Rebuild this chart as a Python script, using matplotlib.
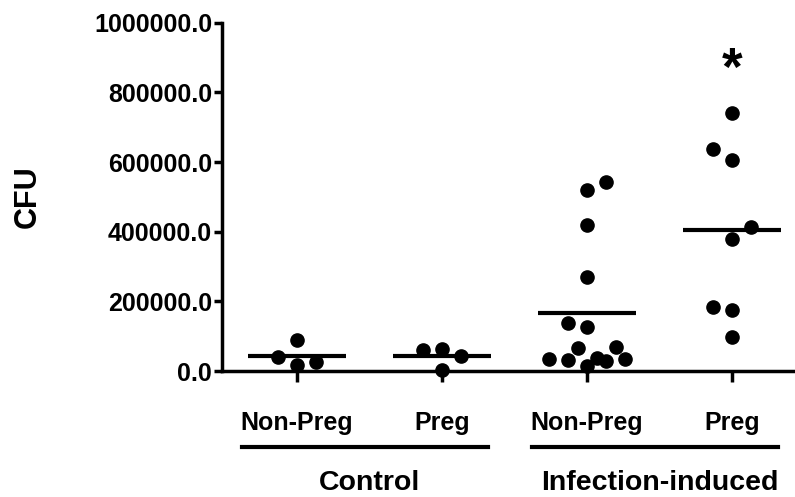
import matplotlib.pyplot as plt

plt.rcParams['font.family'] = ['Liberation Sans', 'DejaVu Sans']
plt.rcParams['font.weight'] = 'bold'

# data (CFU per animal)
ctrl_nonpreg = [88800, 41000, 17000, 26600]
ctrl_preg = [60000, 62000, 43000, 3000]
inf_nonpreg = [518600, 542400, 418300, 270300, 136600, 125200, 65000,
               69700, 34400, 31500, 36300, 28600, 34400, 14300]
inf_preg = [638100, 606600, 740100, 413500, 380200, 182500, 174800, 98300]

# horizontal scatter of the dots, in dot-widths (layout only)
ctrl_nonpreg_dx = [0, -1, 0, 1]
ctrl_preg_dx = [-1, 0, 1, 0]
inf_nonpreg_dx = [0, 1, 0, 0, -1, 0, -0.5, 1.5, -2, -1, 0.5, 1, 2, 0]
inf_preg_dx = [-1, 0, 0, 1, 0, -1, 0, 0]

cat_labels = ['Non-Preg', 'Preg', 'Non-Preg', 'Preg']
groups = ['Control', 'Infection-induced']
yticks = [0, 200000, 400000, 600000, 800000, 1000000]

series = [ctrl_nonpreg, ctrl_preg, inf_nonpreg, inf_preg]
offsets = [ctrl_nonpreg_dx, ctrl_preg_dx, inf_nonpreg_dx, inf_preg_dx]

fig = plt.figure(figsize=(7.95, 4.97), dpi=100)
ax = fig.add_axes([0.2792, 0.2535, 0.7208, 0.7008])

step = 0.131
for i, (vals, dx) in enumerate(zip(series, offsets)):
    xs = [i + d * step for d in dx]
    ax.plot(xs, vals, 'o', color='black', markersize=9.5, clip_on=False, zorder=3)
    m = sum(vals) / len(vals)
    ax.plot([i - 0.34, i + 0.34], [m, m], color='black', lw=3, solid_capstyle='butt',
            zorder=2)

ax.set_xlim(-0.517, 3.434)
ax.set_ylim(0, 1000000)
ax.set_yticks(yticks)
ax.set_yticklabels(['%.1f' % v for v in yticks])
ax.set_xticks(range(4))
ax.set_xticklabels([])
for s in ['top', 'right']:
    ax.spines[s].set_visible(False)
for s in ['left', 'bottom']:
    ax.spines[s].set_linewidth(2.5)
ax.tick_params(axis='both', width=2.5, length=6, labelsize=18, pad=1)
ax.tick_params(axis='x', length=8)
ax.set_ylabel('CFU', fontsize=22, fontweight='bold', labelpad=37)

for i, lab in enumerate(cat_labels):
    ax.text(i, -0.169, lab, transform=ax.get_xaxis_transform(), ha='center',
            va='baseline', fontsize=18, fontweight='bold', clip_on=False)

for g, name in enumerate(groups):
    a, b = 2 * g, 2 * g + 1
    ax.plot([a - 0.38, b + 0.32], [-0.218, -0.218], transform=ax.get_xaxis_transform(),
            color='black', lw=3, clip_on=False)
    ax.text((a + b) / 2, -0.342, name, transform=ax.get_xaxis_transform(), ha='center',
            va='baseline', fontsize=20.5, fontweight='bold', clip_on=False)

ax.text(3, 862000, '*', ha='center', va='center', fontsize=38, fontweight='bold')

fig.savefig('out.png', dpi=100)
